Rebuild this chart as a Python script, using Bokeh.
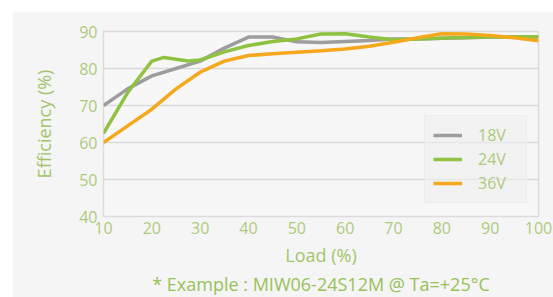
from bokeh.plotting import figure
from bokeh.models import FixedTicker, Legend, LegendItem, Title, Range1d
from bokeh.embed import file_html
from bokeh.resources import INLINE

load = [10, 15, 20, 25, 30, 35, 40, 45, 50, 55, 60, 65, 70, 75, 80, 85, 90, 95, 100]
eff_18v = [70.0, 74.5, 78.0, 80.0, 82.0, 85.5, 88.5, 88.5, 87.2, 87.0, 87.3, 87.6, 88.0, 88.0, 88.2, 88.3, 88.5, 88.5, 88.5]
load_24 = [10, 15, 20, 22.5, 25, 27.5, 30, 35, 40, 45, 50, 55, 60, 65, 70, 75, 80, 85, 90, 95, 100]
eff_24v = [62.5, 73.5, 82.0, 83.0, 82.5, 82.0, 82.3, 84.5, 86.2, 87.3, 88.0, 89.3, 89.4, 88.5, 87.8, 88.0, 88.2, 88.4, 88.5, 88.6, 88.6]
eff_36v = [60.0, 64.5, 69.0, 74.5, 79.0, 82.0, 83.5, 84.0, 84.4, 84.8, 85.3, 86.0, 87.1, 88.3, 89.4, 89.3, 88.9, 88.3, 87.5]
x_ticks = [10, 20, 30, 40, 50, 60, 70, 80, 90, 100]
y_ticks = [40, 50, 60, 70, 80, 90]
series_names = ["18V", "24V", "36V"]

FONT = "Open Sans"
TICK_TXT = "#adca7c"
LBL_TXT = "#a2c56a"
NOTE_TXT = "#98c159"
BG = "#f5f5f5"

p = figure(width=541, height=286, output_backend="svg", toolbar_location=None,
           x_range=Range1d(10, 100), y_range=Range1d(40, 90),
           min_border_left=91, min_border_right=15, min_border_top=20, min_border_bottom=81)
p.margin = (11, 0, 0, 12)
p.background_fill_color = "#f7f7f7"
p.border_fill_color = BG
p.outline_line_color = "#dcdcdc"
p.outline_line_width = 1.5

for ax in (p.xaxis[0], p.yaxis[0]):
    ax.axis_line_color = None
    ax.major_tick_line_color = None
    ax.minor_tick_line_color = None
    ax.major_tick_out = 0
    ax.major_tick_in = 0
    ax.minor_tick_out = 0
    ax.major_label_text_font = FONT
    ax.major_label_text_font_size = "16px"
    ax.major_label_text_color = TICK_TXT
    ax.axis_label_text_font = FONT
    ax.axis_label_text_font_size = "18px"
    ax.axis_label_text_font_style = "normal"
    ax.axis_label_text_color = LBL_TXT

p.xaxis.ticker = FixedTicker(ticks=x_ticks)
p.yaxis.ticker = FixedTicker(ticks=y_ticks)
p.xaxis.axis_label = "Load (%)"
p.yaxis.axis_label = "Efficiency (%)"
p.xaxis.major_label_standoff = 5
p.xaxis.axis_label_standoff = 6
p.yaxis.major_label_standoff = 6
p.yaxis.axis_label_standoff = 20

p.xgrid.grid_line_color = None
p.ygrid.grid_line_color = "#d9d9d9"
p.ygrid.grid_line_width = 1.5

r18 = p.line(load, eff_18v, line_color="#9d9d9d", line_width=3.5)
r24 = p.line(load_24, eff_24v, line_color="#8ec240", line_width=3.5)
r36 = p.line(load, eff_36v, line_color="#f5a81c", line_width=3.5)

legend = Legend(items=[LegendItem(label=series_names[0], renderers=[r18]),
                       LegendItem(label=series_names[1], renderers=[r24]),
                       LegendItem(label=series_names[2], renderers=[r36])],
                location=(321, 13))
legend.background_fill_color = "#eeeeee"
legend.background_fill_alpha = 0.6
legend.border_line_color = "#e6e6e6"
legend.label_text_font = FONT
legend.label_text_font_size = "16px"
legend.label_text_color = TICK_TXT
legend.glyph_width = 29
legend.glyph_height = 20
legend.label_height = 20
legend.label_width = 40
legend.label_standoff = 16
legend.spacing = 2
legend.padding = 8
legend.margin = 0
p.add_layout(legend, "center")

note = Title(text="* Example : MIW06-24S12M @ Ta=+25\u00b0C", align="center",
             text_font=FONT, text_font_size="18px", text_font_style="normal",
             text_color=NOTE_TXT, standoff=0)
p.add_layout(note, "below")

open("out.html", "w").write(file_html(p, INLINE))
